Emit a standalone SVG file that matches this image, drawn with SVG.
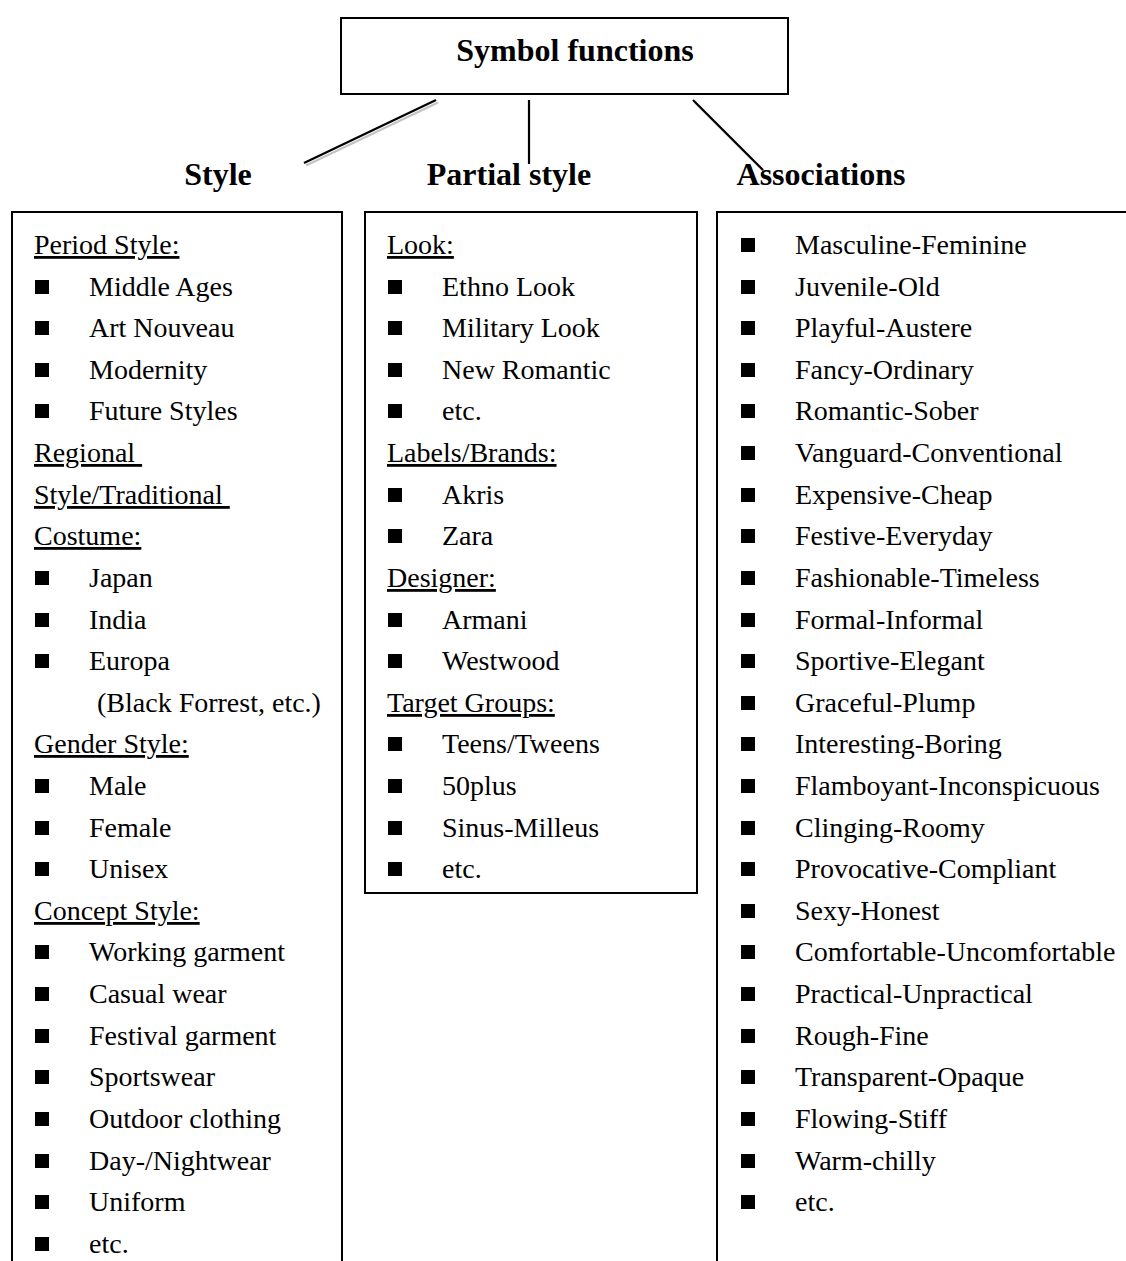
<svg xmlns="http://www.w3.org/2000/svg" width="1126" height="1261" viewBox="0 0 1126 1261">
  <style>
    text { font-family: "Liberation Serif", "Times New Roman", serif; fill: #000; }
    .title { font-size: 32px; font-weight: bold; text-anchor: middle; }
    .item { font-size: 28px; }
    .cap { font-size: 28px; text-decoration: underline; white-space: pre; }
    .frame { fill: #fff; stroke: #000; stroke-width: 2; }
    .open { fill: none; stroke: #000; stroke-width: 2; }
    .link { stroke: #000; stroke-width: 2.2; }
    .shade { stroke: #c4c4c4; stroke-width: 2.2; }
  </style>
  <defs>
    <rect id="sq" width="14" height="14" fill="#000"/>
  </defs>
  <rect width="1126" height="1261" fill="#fff"/>

  <!-- root node -->
  <g id="symbol-functions">
    <rect class="frame" x="341" y="18" width="447" height="76"/>
    <text class="title" x="575" y="61">Symbol functions</text>
  </g>

  <!-- branches from the root -->
  <g id="connectors">
    <line class="shade" x1="438" y1="102.5" x2="306" y2="165.5"/>
    <line class="shade" x1="695" y1="102.5" x2="765" y2="172.5"/>
    <line class="link" x1="436" y1="100" x2="304" y2="163"/>
    <line class="link" x1="529" y1="100" x2="529" y2="164"/>
    <line class="link" x1="693" y1="100" x2="763" y2="170"/>
  </g>

  <!-- Style column -->
  <g id="style">
    <text class="title" x="218" y="185">Style</text>
    <path class="open" d="M12,1262 V212 H342 V1262"/>
    <g class="item-list">
      <text class="cap" x="34" y="254">Period Style:</text>
      <use href="#sq" x="35" y="280"/><text class="item" x="89" y="296">Middle Ages</text>
      <use href="#sq" x="35" y="321"/><text class="item" x="89" y="337">Art Nouveau</text>
      <use href="#sq" x="35" y="363"/><text class="item" x="89" y="379">Modernity</text>
      <use href="#sq" x="35" y="404"/><text class="item" x="89" y="420">Future Styles</text>
      <text class="cap" x="34" y="462">Regional </text>
      <text class="cap" x="34" y="504">Style/Traditional </text>
      <text class="cap" x="34" y="545">Costume:</text>
      <use href="#sq" x="35" y="571"/><text class="item" x="89" y="587">Japan</text>
      <use href="#sq" x="35" y="613"/><text class="item" x="89" y="629">India</text>
      <use href="#sq" x="35" y="654"/><text class="item" x="89" y="670">Europa</text>
      <text class="item" x="97" y="712">(Black Forrest, etc.)</text>
      <text class="cap" x="34" y="753">Gender Style:</text>
      <use href="#sq" x="35" y="779"/><text class="item" x="89" y="795">Male</text>
      <use href="#sq" x="35" y="821"/><text class="item" x="89" y="837">Female</text>
      <use href="#sq" x="35" y="862"/><text class="item" x="89" y="878">Unisex</text>
      <text class="cap" x="34" y="920">Concept Style:</text>
      <use href="#sq" x="35" y="945"/><text class="item" x="89" y="961">Working garment</text>
      <use href="#sq" x="35" y="987"/><text class="item" x="89" y="1003">Casual wear</text>
      <use href="#sq" x="35" y="1029"/><text class="item" x="89" y="1045">Festival garment</text>
      <use href="#sq" x="35" y="1070"/><text class="item" x="89" y="1086">Sportswear</text>
      <use href="#sq" x="35" y="1112"/><text class="item" x="89" y="1128">Outdoor clothing</text>
      <use href="#sq" x="35" y="1154"/><text class="item" x="89" y="1170">Day-/Nightwear</text>
      <use href="#sq" x="35" y="1195"/><text class="item" x="89" y="1211">Uniform</text>
      <use href="#sq" x="35" y="1237"/><text class="item" x="89" y="1253">etc.</text>
    </g>
  </g>

  <!-- Partial style column -->
  <g id="partial-style">
    <text class="title" x="509" y="185">Partial style</text>
    <rect class="frame" x="365" y="212" width="332" height="681"/>
    <g class="item-list">
      <text class="cap" x="387" y="254">Look:</text>
      <use href="#sq" x="388" y="280"/><text class="item" x="442" y="296">Ethno Look</text>
      <use href="#sq" x="388" y="321"/><text class="item" x="442" y="337">Military Look</text>
      <use href="#sq" x="388" y="363"/><text class="item" x="442" y="379">New Romantic</text>
      <use href="#sq" x="388" y="404"/><text class="item" x="442" y="420">etc.</text>
      <text class="cap" x="387" y="462">Labels/Brands:</text>
      <use href="#sq" x="388" y="488"/><text class="item" x="442" y="504">Akris</text>
      <use href="#sq" x="388" y="529"/><text class="item" x="442" y="545">Zara</text>
      <text class="cap" x="387" y="587">Designer:</text>
      <use href="#sq" x="388" y="613"/><text class="item" x="442" y="629">Armani</text>
      <use href="#sq" x="388" y="654"/><text class="item" x="442" y="670">Westwood</text>
      <text class="cap" x="387" y="712">Target Groups:</text>
      <use href="#sq" x="388" y="737"/><text class="item" x="442" y="753">Teens/Tweens</text>
      <use href="#sq" x="388" y="779"/><text class="item" x="442" y="795">50plus</text>
      <use href="#sq" x="388" y="821"/><text class="item" x="442" y="837">Sinus-Milleus</text>
      <use href="#sq" x="388" y="862"/><text class="item" x="442" y="878">etc.</text>
    </g>
  </g>

  <!-- Associations column -->
  <g id="associations">
    <text class="title" x="821" y="185">Associations</text>
    <path class="open" d="M717,1262 V212 H1128"/>
    <g class="item-list">
      <use href="#sq" x="741" y="238"/><text class="item" x="795" y="254">Masculine-Feminine</text>
      <use href="#sq" x="741" y="280"/><text class="item" x="795" y="296">Juvenile-Old</text>
      <use href="#sq" x="741" y="321"/><text class="item" x="795" y="337">Playful-Austere</text>
      <use href="#sq" x="741" y="363"/><text class="item" x="795" y="379">Fancy-Ordinary</text>
      <use href="#sq" x="741" y="404"/><text class="item" x="795" y="420">Romantic-Sober</text>
      <use href="#sq" x="741" y="446"/><text class="item" x="795" y="462">Vanguard-Conventional</text>
      <use href="#sq" x="741" y="488"/><text class="item" x="795" y="504">Expensive-Cheap</text>
      <use href="#sq" x="741" y="529"/><text class="item" x="795" y="545">Festive-Everyday</text>
      <use href="#sq" x="741" y="571"/><text class="item" x="795" y="587">Fashionable-Timeless</text>
      <use href="#sq" x="741" y="613"/><text class="item" x="795" y="629">Formal-Informal</text>
      <use href="#sq" x="741" y="654"/><text class="item" x="795" y="670">Sportive-Elegant</text>
      <use href="#sq" x="741" y="696"/><text class="item" x="795" y="712">Graceful-Plump</text>
      <use href="#sq" x="741" y="737"/><text class="item" x="795" y="753">Interesting-Boring</text>
      <use href="#sq" x="741" y="779"/><text class="item" x="795" y="795">Flamboyant-Inconspicuous</text>
      <use href="#sq" x="741" y="821"/><text class="item" x="795" y="837">Clinging-Roomy</text>
      <use href="#sq" x="741" y="862"/><text class="item" x="795" y="878">Provocative-Compliant</text>
      <use href="#sq" x="741" y="904"/><text class="item" x="795" y="920">Sexy-Honest</text>
      <use href="#sq" x="741" y="945"/><text class="item" x="795" y="961">Comfortable-Uncomfortable</text>
      <use href="#sq" x="741" y="987"/><text class="item" x="795" y="1003">Practical-Unpractical</text>
      <use href="#sq" x="741" y="1029"/><text class="item" x="795" y="1045">Rough-Fine</text>
      <use href="#sq" x="741" y="1070"/><text class="item" x="795" y="1086">Transparent-Opaque</text>
      <use href="#sq" x="741" y="1112"/><text class="item" x="795" y="1128">Flowing-Stiff</text>
      <use href="#sq" x="741" y="1154"/><text class="item" x="795" y="1170">Warm-chilly</text>
      <use href="#sq" x="741" y="1195"/><text class="item" x="795" y="1211">etc.</text>
    </g>
  </g>
</svg>
